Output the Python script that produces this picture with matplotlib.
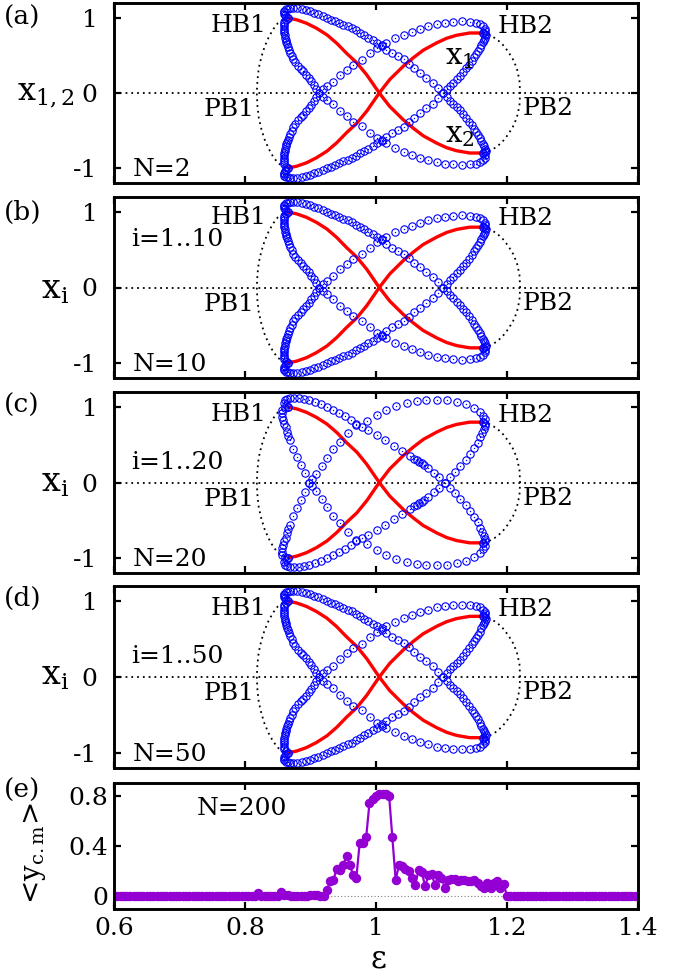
import matplotlib
matplotlib.use("Agg")
import matplotlib.pyplot as plt
import numpy as np

plt.rcParams['font.family'] = ['DejaVu Serif']
plt.rcParams['mathtext.fontset'] = 'dejavuserif'

# ===== data =====
# red branches (stable equilibria between HB1 and HB2)
red_eps = [0.866, 0.879, 0.894, 0.909, 0.925, 0.940, 0.955, 0.971, 0.986, 1.005,
           1.021, 1.042, 1.057, 1.072, 1.093, 1.108, 1.123, 1.143, 1.163]
red_x1 = [-1.00, -0.976, -0.93, -0.864, -0.776, -0.664, -0.53, -0.40, -0.24, 0.00,
          0.18, 0.36, 0.47, 0.57, 0.67, 0.73, 0.77, 0.80, 0.80]
red_x2 = [1.00, 0.976, 0.93, 0.864, 0.776, 0.664, 0.53, 0.40, 0.24, 0.00,
          -0.18, -0.36, -0.47, -0.57, -0.67, -0.73, -0.77, -0.80, -0.80]

# dotted (unstable) branches
left_arc_eps = [0.866, 0.858, 0.850, 0.843, 0.836, 0.830, 0.825, 0.821, 0.819, 0.818,
                0.819, 0.821, 0.825, 0.830, 0.836, 0.843, 0.850, 0.858, 0.866]
left_arc_y = [1.00, 0.98, 0.93, 0.85, 0.74, 0.62, 0.48, 0.33, 0.17, 0.00,
              -0.17, -0.33, -0.48, -0.62, -0.74, -0.85, -0.93, -0.98, -1.00]
right_arc_eps = [1.163, 1.173, 1.184, 1.193, 1.202, 1.209, 1.215, 1.219, 1.220,
                 1.219, 1.215, 1.209, 1.202, 1.193, 1.184, 1.173, 1.163]
right_arc_y = [0.80, 0.775, 0.72, 0.65, 0.55, 0.45, 0.33, 0.17, 0.00,
               -0.17, -0.33, -0.45, -0.55, -0.65, -0.72, -0.775, -0.80]

# blue circles, panels (a), (b), (d): limit cycle extrema
abd_eps_A = [0.866, 0.863, 0.861, 0.860, 0.859, 0.860, 0.862, 0.865, 0.869, 0.874,
             0.880, 0.887, 0.893, 0.899, 0.906, 0.912, 0.919, 0.925, 0.931, 0.937,
             0.944, 0.950, 0.957, 0.963, 0.970, 0.976, 0.982, 0.988, 0.995, 1.001,
             1.009, 1.016, 1.025, 1.033, 1.042, 1.050, 1.058, 1.067, 1.077, 1.087,
             1.095, 1.103, 1.108, 1.113, 1.118, 1.123, 1.128, 1.133, 1.138, 1.142,
             1.146, 1.150, 1.153, 1.156, 1.159, 1.161, 1.163, 1.165, 1.167, 1.168,
             1.167, 1.164]
abd_hi_A = [1.00, 1.02, 1.04, 1.06, 1.08, 1.10, 1.115, 1.125, 1.133, 1.136,
            1.133, 1.12, 1.105, 1.09, 1.07, 1.05, 1.025, 1.00, 0.98, 0.96,
            0.935, 0.91, 0.89, 0.87, 0.835, 0.80, 0.77, 0.74, 0.705, 0.67,
            0.625, 0.58, 0.53, 0.49, 0.45, 0.39, 0.33, 0.27, 0.205, 0.14,
            0.07, 0.00, -0.05, -0.10, -0.14, -0.19, -0.23, -0.28, -0.33, -0.38,
            -0.43, -0.48, -0.52, -0.56, -0.60, -0.64, -0.68, -0.71, -0.74, -0.77,
            -0.79, -0.80]
abd_lo_A = [-1.00, -1.02, -1.04, -1.06, -1.08, -1.10, -1.115, -1.125, -1.133, -1.136,
            -1.133, -1.12, -1.105, -1.09, -1.07, -1.05, -1.025, -1.00, -0.98, -0.96,
            -0.935, -0.91, -0.89, -0.87, -0.835, -0.80, -0.77, -0.74, -0.705, -0.67,
            -0.625, -0.58, -0.53, -0.49, -0.45, -0.39, -0.33, -0.27, -0.205, -0.14,
            -0.07, 0.00, 0.05, 0.10, 0.14, 0.19, 0.23, 0.28, 0.33, 0.38,
            0.43, 0.48, 0.52, 0.56, 0.60, 0.64, 0.68, 0.71, 0.74, 0.77,
            0.79, 0.80]
abd_eps_B = [0.866, 0.862, 0.860, 0.859, 0.859, 0.859, 0.860, 0.860, 0.861, 0.861,
             0.862, 0.863, 0.864, 0.865, 0.867, 0.868, 0.871, 0.874, 0.877, 0.881,
             0.885, 0.889, 0.893, 0.897, 0.901, 0.905, 0.909, 0.913, 0.919, 0.925,
             0.935, 0.945, 0.955, 0.965, 0.978, 0.991, 1.001, 1.009, 1.016, 1.029,
             1.042, 1.055, 1.067, 1.080, 1.093, 1.105, 1.118, 1.131, 1.144, 1.152,
             1.159, 1.163, 1.166, 1.166, 1.163]
abd_hi_B = [1.00, 0.98, 0.95, 0.92, 0.89, 0.86, 0.83, 0.80, 0.77, 0.74,
            0.71, 0.68, 0.65, 0.62, 0.58, 0.54, 0.50, 0.45, 0.41, 0.36,
            0.32, 0.29, 0.245, 0.20, 0.155, 0.11, 0.055, 0.00, -0.05, -0.09,
            -0.15, -0.24, -0.31, -0.38, -0.44, -0.53, -0.60, -0.64, -0.67, -0.73,
            -0.78, -0.82, -0.86, -0.89, -0.92, -0.94, -0.95, -0.955, -0.95, -0.94,
            -0.92, -0.89, -0.86, -0.83, -0.80]
abd_lo_B = [-1.00, -0.98, -0.95, -0.92, -0.89, -0.86, -0.83, -0.80, -0.77, -0.74,
            -0.71, -0.68, -0.65, -0.62, -0.58, -0.54, -0.50, -0.45, -0.41, -0.36,
            -0.32, -0.29, -0.245, -0.20, -0.155, -0.11, -0.055, 0.00, 0.05, 0.09,
            0.15, 0.24, 0.31, 0.38, 0.44, 0.53, 0.60, 0.64, 0.67, 0.73,
            0.78, 0.82, 0.86, 0.89, 0.92, 0.94, 0.95, 0.955, 0.95, 0.94,
            0.92, 0.89, 0.86, 0.83, 0.80]

# blue circles, panel (c)
c_eps_A = [0.866, 0.862, 0.860, 0.861, 0.864, 0.869, 0.875, 0.882, 0.890, 0.898,
           0.907, 0.916, 0.925, 0.935, 0.944, 0.953, 0.962, 0.970, 0.978, 0.988,
           1.001, 1.014, 1.027, 1.040, 1.052, 1.058, 1.063, 1.066, 1.070, 1.074,
           1.080, 1.088, 1.096, 1.105, 1.113, 1.121, 1.129, 1.137, 1.144, 1.150,
           1.155, 1.159, 1.162, 1.165, 1.167, 1.167, 1.164]
c_hi_A = [1.00, 1.03, 1.06, 1.09, 1.105, 1.115, 1.12, 1.12, 1.11, 1.095,
          1.07, 1.04, 1.00, 0.96, 0.92, 0.88, 0.83, 0.78, 0.74, 0.70,
          0.63, 0.56, 0.49, 0.42, 0.35, 0.31, 0.30, 0.27, 0.26, 0.23,
          0.19, 0.13, 0.07, 0.00, -0.07, -0.14, -0.22, -0.30, -0.38, -0.46,
          -0.53, -0.60, -0.66, -0.71, -0.75, -0.78, -0.80]
c_lo_A = [-1.00, -1.03, -1.06, -1.09, -1.105, -1.115, -1.12, -1.12, -1.11, -1.095,
          -1.07, -1.04, -1.00, -0.96, -0.92, -0.88, -0.83, -0.78, -0.74, -0.70,
          -0.63, -0.56, -0.49, -0.42, -0.35, -0.31, -0.30, -0.27, -0.26, -0.23,
          -0.19, -0.13, -0.07, 0.00, 0.07, 0.14, 0.22, 0.30, 0.38, 0.46,
          0.53, 0.60, 0.66, 0.71, 0.75, 0.78, 0.80]
c_eps_B = [0.866, 0.861, 0.857, 0.856, 0.857, 0.858, 0.860, 0.862, 0.864, 0.866,
           0.869, 0.874, 0.879, 0.885, 0.892, 0.897, 0.903, 0.909, 0.917, 0.925,
           0.935, 0.945, 0.957, 0.970, 0.986, 1.001, 1.016, 1.031, 1.047, 1.062,
           1.077, 1.093, 1.108, 1.123, 1.138, 1.150, 1.159, 1.164, 1.166, 1.164]
c_hi_B = [1.00, 0.99, 0.96, 0.92, 0.87, 0.83, 0.78, 0.73, 0.67, 0.62,
          0.56, 0.45, 0.34, 0.23, 0.12, 0.00, -0.05, -0.11, -0.22, -0.33,
          -0.45, -0.54, -0.65, -0.76, -0.81, -0.89, -0.96, -1.02, -1.06, -1.08,
          -1.09, -1.10, -1.09, -1.07, -1.04, -0.99, -0.93, -0.88, -0.84, -0.80]
c_lo_B = [-1.00, -0.99, -0.96, -0.92, -0.87, -0.83, -0.78, -0.73, -0.67, -0.62,
          -0.56, -0.45, -0.34, -0.23, -0.12, 0.00, 0.05, 0.11, 0.22, 0.33,
          0.45, 0.54, 0.65, 0.76, 0.81, 0.89, 0.96, 1.02, 1.06, 1.08,
          1.09, 1.10, 1.09, 1.07, 1.04, 0.99, 0.93, 0.88, 0.84, 0.80]

# panel (e): <y_cm> for N=200, sweep 0.6..1.4 in steps of 0.005
e_eps = np.linspace(0.6, 1.4, 161)
e_ycm = [0, 0, 0, 0, 0, 0, 0, 0, 0, 0,
         0, 0, 0, 0, 0, 0, 0, 0, 0, 0,
         0, 0, 0, 0, 0, 0, 0, 0, 0, 0,
         0, 0, 0, 0, 0, 0, 0, 0, 0, 0,
         0, 0, 0, 0, 0.03, 0, 0, 0, 0, 0,
         0, 0.035, 0.01, 0.01, 0.005, 0, 0, 0.005, 0, 0.005,
         0.01, 0.015, 0.01, 0.0, 0.0, 0.05, 0.12, 0.13, 0.22, 0.21,
         0.25, 0.32, 0.25, 0.17, 0.15, 0.42, 0.42, 0.47, 0.74, 0.77,
         0.80, 0.81, 0.81, 0.81, 0.80, 0.47, 0.13, 0.25, 0.24, 0.22,
         0.20, 0.15, 0.09, 0.21, 0.19, 0.08, 0.17, 0.18, 0.09, 0.17,
         0.15, 0.07, 0.13, 0.14, 0.14, 0.12, 0.13, 0.13, 0.12, 0.12,
         0.13, 0.11, 0.08, 0.07, 0.11, 0.07, 0.11, 0.12, 0.07, 0.10,
         0, 0, 0, 0, 0, 0, 0, 0, 0, 0,
         0, 0, 0, 0, 0, 0, 0, 0, 0, 0,
         0, 0, 0, 0, 0, 0, 0, 0, 0, 0,
         0, 0, 0, 0, 0, 0, 0, 0, 0, 0,
         0]

panel_tags = ['(a)', '(b)', '(c)', '(d)', '(e)']
n_labels = ['N=2', 'N=10', 'N=20', 'N=50']
i_labels = [None, 'i=1..10', 'i=1..20', 'i=1..50']

# ===== figure =====
fig = plt.figure(figsize=(6.88, 9.75), dpi=100)
W, H = 688.0, 975.0
x0, x1 = 114, 638
tops = [3, 197, 392, 586, 783]
bots = [183, 378, 573, 768, 909]

blue_sets = [
    (abd_eps_A, abd_hi_A, abd_lo_A, abd_eps_B, abd_hi_B, abd_lo_B),
    (abd_eps_A, abd_hi_A, abd_lo_A, abd_eps_B, abd_hi_B, abd_lo_B),
    (c_eps_A, c_hi_A, c_lo_A, c_eps_B, c_hi_B, c_lo_B),
    (abd_eps_A, abd_hi_A, abd_lo_A, abd_eps_B, abd_hi_B, abd_lo_B),
]


def style_axes(ax):
    for s in ax.spines.values():
        s.set_linewidth(2.1)
    ax.tick_params(direction='in', length=5, width=1.6, top=True, right=True,
                   labelsize=18)


axes = []
for k in range(5):
    ax = fig.add_axes([x0 / W, 1 - bots[k] / H, (x1 - x0) / W, (bots[k] - tops[k]) / H])
    style_axes(ax)
    ax.set_xlim(0.6, 1.4)
    ax.set_xticks([0.6, 0.8, 1.0, 1.2, 1.4])
    axes.append(ax)

dots = (0, (1, 2.2))
for k in range(4):
    ax = axes[k]
    ax.set_ylim(-1.2, 1.2)
    ax.set_yticks([-1, 0, 1])
    ax.set_yticklabels(['-1', '0', '1'])
    ax.tick_params(axis='y', pad=12)
    ax.set_xticklabels([])

    ax.axhline(0, color='black', lw=1.3, ls=dots)
    ax.plot(left_arc_eps, left_arc_y, color='black', lw=1.3, ls=dots)
    ax.plot(right_arc_eps, right_arc_y, color='black', lw=1.3, ls=dots)
    ax.plot(red_eps, red_x1, color='red', lw=2.4, solid_capstyle='round')
    ax.plot(red_eps, red_x2, color='red', lw=2.4, solid_capstyle='round')

    eA, hA, lA, eB, hB, lB = blue_sets[k]
    for ee, yy in [(eA, hA), (eA, lA), (eB, hB), (eB, lB)]:
        ax.plot(ee, yy, ls='none', marker='o', ms=5.3, mfc='none', mec='blue', mew=0.8)
        ax.plot(ee, yy, ls='none', marker='o', ms=1.0, mfc='blue', mec='blue', mew=0)

    hb_y = 0.93 if k == 1 else 0.90
    ax.text(0.833, hb_y, 'HB1', fontsize=18, ha='right', va='center')
    ax.text(1.185, hb_y - 0.01, 'HB2', fontsize=18, ha='left', va='center')
    ax.text(0.815, -0.22, 'PB1', fontsize=18, ha='right', va='center')
    ax.text(1.224, -0.21, 'PB2', fontsize=18, ha='left', va='center')
    ax.text(0.628, -1.02, n_labels[k], fontsize=18, ha='left', va='center')
    if i_labels[k]:
        iy = 0.63 if k == 1 else 0.27
        ax.text(0.626, iy, i_labels[k], fontsize=18, ha='left', va='center')

axes[0].text(1.105, 0.48, r'$\mathrm{x}_1$', fontsize=21, ha='left', va='center')
axes[0].text(1.105, -0.56, r'$\mathrm{x}_2$', fontsize=21, ha='left', va='center')

# panel (e)
ax = axes[4]
ax.set_ylim(-0.1, 0.9)
ax.set_yticks([0, 0.4, 0.8])
ax.set_yticklabels(['0', '0.4', '0.8'])
ax.set_xticklabels(['0.6', '0.8', '1', '1.2', '1.4'])
ax.tick_params(axis='y', pad=4)
ax.tick_params(axis='x', pad=6)
ax.axhline(0, color='gray', lw=0.8, ls=(0, (1, 2)))
ax.plot(e_eps, e_ycm, color='#9400d3', lw=1.6, marker='o', ms=5.8, mec='#9400d3')
ax.text(0.727, 0.70, 'N=200', fontsize=18, ha='left', va='center')

# labels
for k, tag in enumerate(panel_tags):
    ty = [17, 212, 405, 598, 790][k]
    fig.text(0.005, 1 - ty / H, tag, fontsize=19, ha='left', va='center')

fig.text(46 / W, 1 - 95 / H, r'$\mathrm{x}_{1,2}$', fontsize=23, ha='center', va='center')
for py in [290, 483, 676]:
    fig.text(55 / W, 1 - py / H, r'$\mathrm{x}_\mathrm{i}$', fontsize=24, ha='center', va='center')
fig.text(34 / W, 1 - 853 / H, r'<$\mathrm{y}_{\mathrm{c.m}}$>', fontsize=20,
         ha='center', va='center', rotation=90)
fig.text(378 / W, 1 - 959 / H, 'ε', fontsize=22, ha='center', va='center')

fig.savefig('out.png', dpi=100)
